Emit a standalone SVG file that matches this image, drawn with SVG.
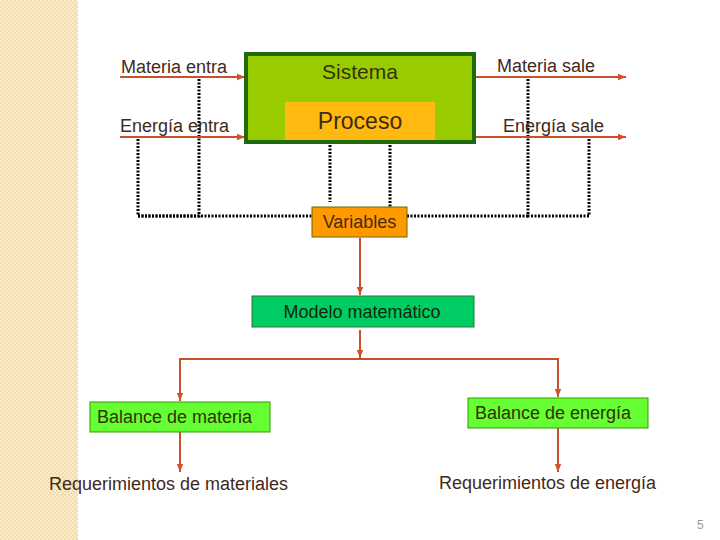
<svg xmlns="http://www.w3.org/2000/svg" width="720" height="540" viewBox="0 0 720 540">
<defs>
<pattern id="chk" width="4" height="4" patternUnits="userSpaceOnUse">
<rect width="4" height="4" fill="#f1dcae"/>
<rect width="2" height="2" fill="#fbedcb"/>
<rect x="2" y="2" width="2" height="2" fill="#fbedcb"/>
</pattern>
<marker id="ah" viewBox="0 0 10 10" refX="10" refY="5" markerWidth="4" markerHeight="4" orient="auto" markerUnits="userSpaceOnUse">
<path d="M0,0 L10,5 L0,10 z" fill="#d2502a"/>
</marker>
<marker id="ah2" viewBox="0 0 10 10" refX="10" refY="5" markerWidth="8" markerHeight="8" orient="auto" markerUnits="userSpaceOnUse">
<path d="M0,1 L10,5 L0,9 z" fill="#d2502a"/>
</marker>
</defs>
<style>
text{font-family:"Liberation Sans",Arial,sans-serif;font-size:18px;fill:#3f2a1c}
.flow{stroke:#c8502a;stroke-width:2;fill:none}
.dot{stroke:#000;stroke-width:3;stroke-dasharray:2 1.5;fill:none}
.olive{fill:#333300}
</style>
<rect x="0" y="0" width="720" height="540" fill="#fff"/>
<rect x="0" y="0" width="78" height="540" fill="url(#chk)"/>

<g id="connectors">
<polyline class="dot" points="199,79 199,216 138,216 138,139"/>
<line class="dot" x1="138" y1="216" x2="312" y2="216"/>
<line class="dot" x1="330" y1="145" x2="330" y2="202"/>
<line class="dot" x1="390" y1="145" x2="390" y2="208"/>
<polyline class="dot" points="528,79 528,216 589,216 589,139"/>
<line class="dot" x1="407" y1="216" x2="528" y2="216"/>
<line class="flow" x1="120" y1="77" x2="245" y2="77" marker-end="url(#ah2)"/>
<line class="flow" x1="120" y1="137" x2="245" y2="137" marker-end="url(#ah2)"/>
<line class="flow" x1="476" y1="77" x2="626" y2="77" marker-end="url(#ah2)"/>
<line class="flow" x1="476" y1="137" x2="626" y2="137" marker-end="url(#ah2)"/>
<line class="flow" x1="360" y1="238" x2="360" y2="295" marker-end="url(#ah2)"/>
<line class="flow" x1="360" y1="330" x2="360" y2="358" marker-end="url(#ah2)"/>
<line class="flow" x1="179" y1="359" x2="559" y2="359"/>
<line class="flow" x1="180" y1="359" x2="180" y2="401" marker-end="url(#ah2)"/>
<line class="flow" x1="558" y1="359" x2="558" y2="397" marker-end="url(#ah2)"/>
<line class="flow" x1="180" y1="432" x2="180" y2="472" marker-end="url(#ah2)"/>
<line class="flow" x1="558" y1="428" x2="558" y2="472" marker-end="url(#ah2)"/>
</g>

<g id="sistema">
<rect x="246" y="54" width="228" height="88" fill="#99cc00" stroke="#1f6b0a" stroke-width="4"/>
<text x="360" y="79" text-anchor="middle" class="olive" style="font-size:21px">Sistema</text>
</g>
<g id="proceso">
<rect x="285" y="102" width="150" height="38" fill="#ffb910"/>
<text x="360" y="129" text-anchor="middle" style="font-size:23px;fill:#3d2a10">Proceso</text>
</g>

<g id="materia-entra"><text x="121" y="73">Materia entra</text></g>
<g id="energia-entra"><text x="120" y="132">Energía entra</text></g>
<g id="materia-sale"><text x="497" y="72">Materia sale</text></g>
<g id="energia-sale"><text x="503" y="132">Energía sale</text></g>

<g id="variables">
<rect x="312" y="207" width="95" height="30" fill="#ff9900" stroke="#6b6b00" stroke-width="1"/>
<text x="359.5" y="228" text-anchor="middle" style="fill:#4a2a10">Variables</text>
</g>

<g id="modelo">
<rect x="252" y="296" width="222" height="31" fill="#00cc66" stroke="#2a7a2a" stroke-width="1"/>
<text x="362" y="318" text-anchor="middle" style="fill:#0f2a0a">Modelo matemático</text>
</g>

<g id="balance-materia">
<rect x="90" y="402" width="180" height="30" fill="#66ff33" stroke="#339900" stroke-width="1"/>
<text x="97" y="423" class="olive">Balance de materia</text>
</g>

<g id="balance-energia">
<rect x="468" y="398" width="180" height="30" fill="#66ff33" stroke="#339900" stroke-width="1"/>
<text x="475" y="419" class="olive">Balance de energía</text>
</g>

<g id="req-materiales"><text x="49" y="490">Requerimientos de materiales</text></g>
<g id="req-energia"><text x="439" y="489">Requerimientos de energía</text></g>

<text x="697" y="529" style="font-size:12px;fill:#999">5</text>
</svg>
